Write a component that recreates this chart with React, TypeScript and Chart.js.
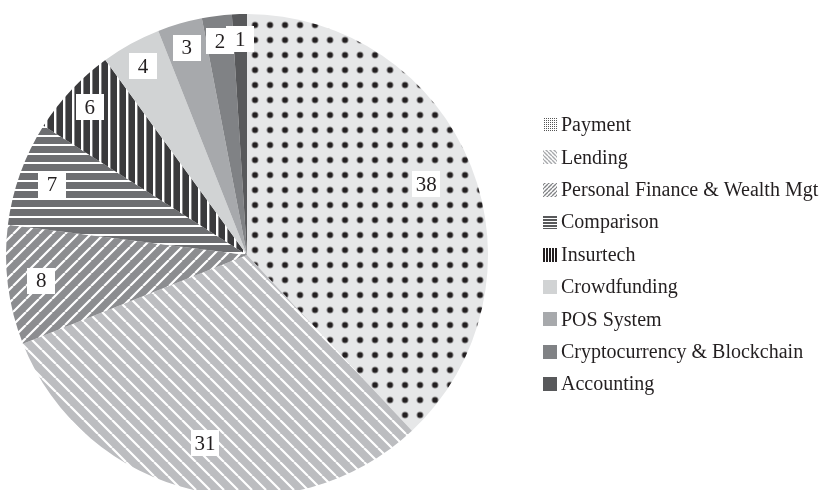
import React, { useEffect, useRef } from 'react';
import { Chart, registerables } from 'chart.js';

Chart.register(...registerables);

const categories = [
  'Payment',
  'Lending',
  'Personal Finance & Wealth Mgt',
  'Comparison',
  'Insurtech',
  'Crowdfunding',
  'POS System',
  'Cryptocurrency & Blockchain',
  'Accounting',
];
const shares = [38, 31, 8, 7, 6, 4, 3, 2, 1];

const INK = '#231f20';

type Drawer = (x: CanvasRenderingContext2D, s: number) => void;

function tile(size: number, bg: string, draw: Drawer): HTMLCanvasElement {
  const c = document.createElement('canvas');
  c.width = size;
  c.height = size;
  const x = c.getContext('2d')!;
  x.fillStyle = bg;
  x.fillRect(0, 0, size, size);
  draw(x, size);
  return c;
}

const dots = (r: number, col: string): Drawer => (x, s) => {
  x.fillStyle = col;
  x.beginPath();
  x.arc(s / 2, s / 2, r, 0, Math.PI * 2);
  x.fill();
};
const back = (w: number, col: string): Drawer => (x, s) => {
  x.strokeStyle = col;
  x.lineWidth = w;
  x.beginPath();
  for (let k = -1; k <= 1; k++) {
    x.moveTo(k * s, 0);
    x.lineTo(k * s + s, s);
  }
  x.stroke();
};
const fwd = (w: number, col: string): Drawer => (x, s) => {
  x.strokeStyle = col;
  x.lineWidth = w;
  x.beginPath();
  for (let k = -1; k <= 1; k++) {
    x.moveTo(k * s, s);
    x.lineTo(k * s + s, 0);
  }
  x.stroke();
};
const horiz = (w: number, col: string): Drawer => (x, s) => {
  x.fillStyle = col;
  x.fillRect(0, 0, s, w);
};
const vert = (w: number, col: string): Drawer => (x, s) => {
  x.fillStyle = col;
  x.fillRect(0, 0, w, s);
};

function makeFills(ctx: CanvasRenderingContext2D) {
  const pat = (c: HTMLCanvasElement, ox = 0, oy = 0) => {
    const p = ctx.createPattern(c, 'repeat')!;
    if (ox || oy) p.setTransform(new DOMMatrix().translate(ox, oy));
    return p;
  };
  const big = [
    pat(tile(15, '#e6e7e8', dots(3, INK)), -7.5, 2.5),
    pat(tile(14, '#bcbdc0', back(2.2, '#ffffff'))),
    pat(tile(13, '#8c8d90', fwd(2.2, '#ffffff'))),
    pat(tile(9, '#6d6e71', horiz(2, '#ffffff'))),
    pat(tile(9, '#3a3a3c', vert(2.4, '#ffffff'))),
    '#d1d3d4',
    '#a7a9ac',
    '#808285',
    '#58595b',
  ];
  const small = [
    pat(tile(2, '#ffffff', (x) => { x.fillStyle = '#555'; x.fillRect(0, 0, 1, 1); })),
    pat(tile(4, '#ffffff', back(1.4, '#a7a9ac'))),
    pat(tile(4, '#ffffff', fwd(1.4, '#808285'))),
    pat(tile(3, '#ffffff', horiz(2, '#58595b'))),
    pat(tile(3, '#ffffff', vert(2, INK))),
    '#d1d3d4',
    '#a7a9ac',
    '#808285',
    '#58595b',
  ];
  return { big, small };
}

export default function App() {
  const ref = useRef<HTMLCanvasElement | null>(null);

  useEffect(() => {
    const canvas = ref.current!;
    const ctx = canvas.getContext('2d')!;
    const { big, small } = makeFills(ctx);

    const labelPlugin = {
      id: 'sliceLabels',
      afterDatasetsDraw(chart: any) {
        const c = chart.ctx as CanvasRenderingContext2D;
        const meta = chart.getDatasetMeta(0);
        c.save();
        c.font = '21px "Liberation Serif", serif';
        c.textAlign = 'center';
        c.textBaseline = 'middle';
        meta.data.forEach((arc: any, i: number) => {
          const { x, y, startAngle, endAngle, outerRadius } = arc.getProps(
            ['x', 'y', 'startAngle', 'endAngle', 'outerRadius'],
            true
          );
          const v = shares[i];
          const frac = v >= 20 ? 0.8 : v >= 7 ? 0.86 : 0.895;
          const mid = (startAngle + endAngle) / 2;
          const px = x + Math.cos(mid) * outerRadius * frac;
          const py = y + Math.sin(mid) * outerRadius * frac;
          const w = 28;
          const h = 26;
          c.fillStyle = '#ffffff';
          c.fillRect(Math.round(px - w / 2), Math.round(py - h / 2), w, h);
          c.fillStyle = INK;
          c.fillText(String(v), px, py + 1);
        });
        c.restore();
      },
    };

    const legendPlugin = {
      id: 'sideLegend',
      afterDraw(chart: any) {
        const c = chart.ctx as CanvasRenderingContext2D;
        c.save();
        c.font = '20px "Liberation Serif", serif';
        c.textBaseline = 'middle';
        c.textAlign = 'left';
        categories.forEach((name, i) => {
          const cy = 125 + i * 32.4;
          c.fillStyle = small[i] as any;
          c.fillRect(543, Math.round(cy - 7), 14, 14);
          c.fillStyle = INK;
          c.fillText(name, 561, cy + 1);
        });
        c.restore();
      },
    };

    const chart = new Chart(ctx, {
      type: 'pie',
      data: {
        labels: categories,
        datasets: [
          {
            data: shares,
            backgroundColor: big as any,
            borderWidth: 0,
          },
        ],
      },
      options: {
        responsive: false,
        animation: false,
        devicePixelRatio: 1,
        layout: { padding: { left: 6, right: 331, top: 14, bottom: 14 } },
        plugins: {
          legend: { display: false },
          tooltip: { enabled: false },
        },
      },
      plugins: [labelPlugin, legendPlugin],
    });
    return () => chart.destroy();
  }, []);

  return (
    <div
      style={{
        position: 'fixed',
        left: 0,
        top: 0,
        width: 819,
        height: 490,
        overflow: 'hidden',
        background: '#ffffff',
      }}
    >
      <canvas ref={ref} width={819} height={510} style={{ display: 'block', width: 819, height: 510 }} />
    </div>
  );
}
